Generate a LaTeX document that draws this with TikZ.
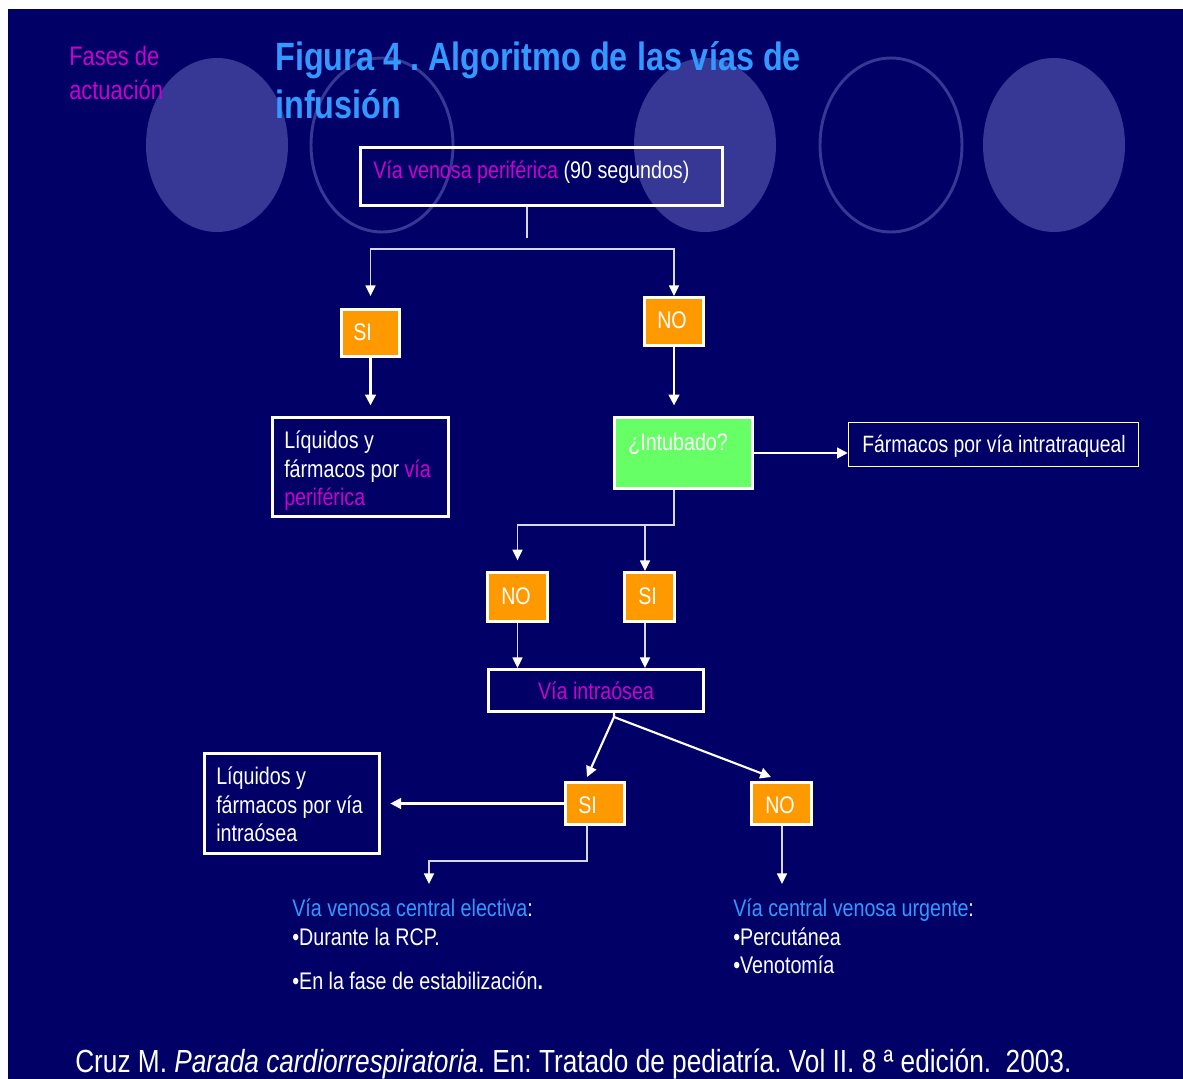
\documentclass[tikz,border=0pt]{standalone}
\usepackage{fontspec}
\setmainfont{Liberation Sans}[FakeStretch=0.82]
\usetikzlibrary{arrows.meta}
\frenchspacing
\definecolor{navy}{RGB}{0,0,102}
\definecolor{ell}{RGB}{55,55,150}
\definecolor{mag}{RGB}{204,0,204}
\definecolor{tblue}{RGB}{51,153,255}
\definecolor{org}{RGB}{255,153,0}
\definecolor{grn}{RGB}{102,255,102}
\definecolor{lline}{RGB}{215,215,235}
\newcommand\fsz[1]{\fontsize{\fpeval{#1*0.75}pt}{\fpeval{#1*0.9}pt}\selectfont}
\tikzset{
  box/.style={draw=white, line width=2.25pt, inner sep=0pt},
  obox/.style={box, fill=org},
  dim/.style n args={2}{minimum width=#1*0.75pt, minimum height=#2*0.75pt},
  conn/.style={draw=lline, line width=1.1pt},
  arr/.style={conn, -{Triangle[width=7.5pt,length=8pt,color=white]}},
  arrw/.style={draw=white, line width=1.6pt, -{Triangle[width=8pt,length=8pt,color=white]}},
  txt/.style={anchor=base west, inner sep=0pt, text=white, font=\fsz{24}},
}
\begin{document}
\begin{tikzpicture}[x=0.75pt,y=-0.75pt]
\useasboundingbox (0,0) rectangle (1183,1079);
\fill[white] (0,0) rectangle (1183,1079);
\fill[navy] (8,9) rectangle (1183,1079);
% decorative ellipses
\fill[ell] (217,145) ellipse [x radius=71, y radius=87];
\draw[ell, line width=2.2pt] (382,145) ellipse [x radius=71, y radius=87];
\fill[ell] (705,145) ellipse [x radius=71, y radius=87];
\draw[ell, line width=2.2pt] (891,145) ellipse [x radius=71, y radius=87];
\fill[ell] (1054,145) ellipse [x radius=71, y radius=87];
% headings
\node[txt, text=mag, font=\fsz{26.7}] (fases1) at (69,65) {Fases de};
\node[txt, text=mag, font=\fsz{26.7}] (fases2) at (69,99) {actuación};
\node[txt, text=tblue, font=\bfseries\fsz{39.5}] (tit1) at (275,70) {Figura 4 . Algoritmo de las vías de};
\node[txt, text=tblue, font=\bfseries\fsz{39.5}] (tit2) at (275,118) {infusión};
% boxes
\node[box, dim={362}{58}] (vvp) at (541.5,176.5) {};
\node[obox, dim={58}{47}] (si1) at (370.5,333) {};
\node[obox, dim={59}{48}] (no1) at (674,321.5) {};
\node[box, dim={176}{99}] (liq1) at (360.5,467) {};
\node[box, fill=grn, dim={138}{71}] (intub) at (683.5,453) {};
\node[draw=white, line width=1.1pt, inner sep=0pt, dim={290}{44}] (farm) at (993.5,444.5) {};
\node[obox, dim={60}{49}] (no2) at (517.5,597) {};
\node[obox, dim={50}{49}] (si2) at (649.5,597) {};
\node[box, dim={215}{42}] (intra) at (596,690.5) {};
\node[obox, dim={59}{42}] (si3) at (595,803.5) {};
\node[obox, dim={60}{42}] (no3) at (781.5,803.5) {};
\node[box, dim={175}{100}] (liq2) at (292,803.5) {};
% box texts
\node[txt] (vvpt) at (373,178) {\textcolor{mag}{Vía venosa periférica} (90 segundos)};
\node[txt] (si1t) at (353,340) {SI};
\node[txt] (no1t) at (657,328) {NO};
\node[txt] (liq1a) at (284,448) {Líquidos y};
\node[txt] (liq1b) at (284,477) {fármacos por \textcolor{mag}{vía}};
\node[txt] (liq1c) at (284,505) {\textcolor{mag}{periférica}};
\node[txt] (intubt) at (628,450) {¿Intubado?};
\node[txt, font=\fsz{23.6}] (farmt) at (862,452) {Fármacos por vía intratraqueal};
\node[txt] (no2t) at (501,604) {NO};
\node[txt] (si2t) at (638,604) {SI};
\node[txt, anchor=base, text=mag] (intrat) at (596,699) {Vía intraósea};
\node[txt] (si3t) at (578,813) {SI};
\node[txt] (no3t) at (765,813) {NO};
\node[txt] (liq2a) at (216,784) {Líquidos y};
\node[txt] (liq2b) at (216,813) {fármacos por vía};
\node[txt] (liq2c) at (216,841) {intraósea};
% bottom texts
\node[txt] (elec) at (292,916) {\textcolor{tblue}{Vía venosa central electiva}:};
\node[txt] (elec1) at (292,945) {•Durante la RCP.};
\node[txt] (elec2) at (292,989) {•En la fase de estabilización\textbf{.}};
\node[txt] (urg) at (733,916) {\textcolor{tblue}{Vía central venosa urgente}:};
\node[txt] (urg1) at (733,945) {•Percutánea};
\node[txt] (urg2) at (733,973) {•Venotomía};
\node[txt, font=\fsz{32}] (cite) at (75,1072) {Cruz M. \textit{Parada cardiorrespiratoria}. En: Tratado de pediatría. Vol II. 8 ª edición.\ \ 2003.};
% junction coordinates
\coordinate (c1) at (527,238);
\coordinate (h1L) at (370,249);
\coordinate (h1R) at (674,249);
\coordinate (j2) at (674,525);
\coordinate (j3) at (645,525);
\coordinate (d0) at (614,717);
\coordinate (dL) at (587,777);
\coordinate (dR) at (771,777);
\coordinate (j4) at (587,861);
\coordinate (j5) at (429,861);
\coordinate (t1) at (429,884);
\coordinate (t2) at (782,884);
% connectors
\draw[conn] (vvp.south -| c1) -- (c1);
\draw[arr, shorten >=9pt] (h1R) -| (si1.north);
\draw[arr] (h1L) -| (no1.north);
\draw[arrw, shorten >=8pt] (si1.south) -- (si1.south |- liq1.north);
\draw[arrw, shorten >=8pt] (no1.south) -- (no1.south |- intub.north);
\draw[arrw] (intub.east) -- (intub.east -| farm.west);
\draw[conn] (intub.south -| j2) -- (j2) -- (j3);
\draw[arr, shorten >=8pt] (j3) -| (no2.north);
\draw[arr] (j3) -- (j3 |- si2.north);
\draw[arr] (no2.south) -- (no2.south |- intra.north);
\draw[arr] (si2.south -| j3) -- (j3 |- intra.north);
\draw[arrw] (intra.south -| d0) -- (d0) -- (dL);
\draw[arrw] (d0) -- (dR);
\draw[arrw, shorten >=7pt] (si3.west) -- (si3.west -| liq2.east);
\draw[arr] (si3.south -| j4) -- (j4) -- (j5) -- (t1);
\draw[arr] (no3.south -| t2) -- (t2);
\end{tikzpicture}
\end{document}
